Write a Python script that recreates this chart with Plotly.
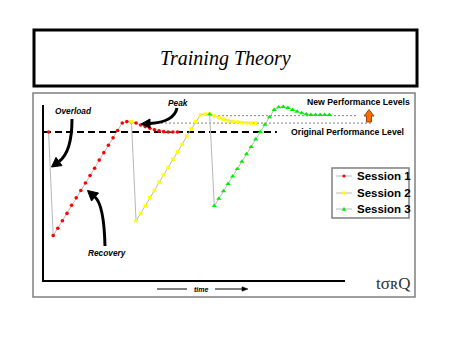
import plotly.graph_objects as go

# ---------------- data ----------------
s1_t = list(range(1, 30))
s1_p = [100, 30, 35, 40, 45, 50.5, 55.5, 60.5, 65.5, 70.5, 75.5, 81, 86, 91, 96, 101, 106,
        107, 106.7, 106, 104.7, 103.6, 102.5, 101.4, 100.7, 100.2, 100, 100, 100]
s2_t = list(range(19, 47))
s2_p = [107, 40, 45, 50, 55.5, 60.5, 66, 71, 76, 81.5, 86.5, 91.5, 97, 102, 107, 111.5,
        112, 112, 110.8, 109.8, 108.6, 107.6, 107, 106.6, 106.3, 106.1, 106, 106]
s3_t = list(range(36, 63))
s3_p = [112, 50, 55, 60, 65, 70, 75, 80, 85, 90, 95, 100, 105, 110, 115, 116.7, 117,
        116.3, 115, 113.8, 112.8, 112, 111.6, 111.5, 111.5, 111.5, 111.5]
series_names = ["Session 1", "Session 2", "Session 3"]
series_colors = ["#ff0000", "#ffff00", "#00ee00"]
series_symbols = ["circle", "square", "triangle-up"]
original_level = 100
new_levels = [106, 111]
original_level_end = 50.6

XMAX = 65.4
YMAX = 118.2

# --------------- layout helpers (pixel -> paper) ---------------
L, R, T, B = 44, 105, 105, 58
W = 450 - L - R
H = 338 - T - B
BPX = 338 - B


def px(x):
    return (x - L) / W


def py(y):
    return (BPX - y) / H


fig = go.Figure()
for t, p, n, c, s, sz in zip([s1_t, s2_t, s3_t], [s1_p, s2_p, s3_p], series_names,
                             series_colors, series_symbols, [3.6, 3.6, 4.6]):
    fig.add_trace(go.Scatter(x=t, y=p, name=n, mode="lines+markers",
                             line=dict(color="#b8b8b8", width=1),
                             marker=dict(color=c, symbol=s, size=sz, line=dict(width=0)),
                             showlegend=False, cliponaxis=False))

shapes = []
# title box
shapes.append(dict(type="rect", xref="paper", yref="paper", x0=px(34), x1=px(417),
                   y0=py(86), y1=py(30), line=dict(color="black", width=3)))
# chart frame
shapes.append(dict(type="rect", xref="paper", yref="paper", x0=px(33), x1=px(415),
                   y0=py(297), y1=py(93), line=dict(color="#808080", width=1.5), layer="below"))
# original performance level
shapes.append(dict(type="line", xref="x", yref="y", x0=0, x1=original_level_end,
                   y0=original_level, y1=original_level,
                   line=dict(color="black", width=2, dash="7px,4px"), layer="below"))
# new performance levels (dotted)
shapes.append(dict(type="line", xref="paper", yref="paper", x0=px(145), x1=px(373),
                   y0=new_levels[0] / YMAX, y1=new_levels[0] / YMAX,
                   line=dict(color="#808080", width=1, dash="2px,2px"), layer="below"))
shapes.append(dict(type="line", xref="paper", yref="paper", x0=px(210), x1=px(357),
                   y0=new_levels[1] / YMAX, y1=new_levels[1] / YMAX,
                   line=dict(color="#808080", width=1, dash="2px,2px"), layer="below"))


def curve(p0, c, p1):
    return "M {} {} Q {} {} {} {}".format(px(p0[0]), py(p0[1]), px(c[0]), py(c[1]),
                                          px(p1[0]), py(p1[1]))


def tri(a, b, c):
    return "M {} {} L {} {} L {} {} Z".format(px(a[0]), py(a[1]), px(b[0]), py(b[1]),
                                              px(c[0]), py(c[1]))


# curved annotation arrows
for body, head in [
    (((72, 119), (72, 152), (59, 161.5)), ((51.5, 167), (62, 165.6), (56, 157.4))),
    (((177, 108), (174, 122), (150, 123.5)), ((141, 124), (150, 119), (150, 128))),
    (((105, 246), (104, 205), (95, 197)), ((87.5, 190.5), (98.5, 193), (91.5, 201))),
]:
    shapes.append(dict(type="path", xref="paper", yref="paper", path=curve(*body),
                       line=dict(color="black", width=3)))
    shapes.append(dict(type="path", xref="paper", yref="paper", path=tri(*head),
                       fillcolor="black", line=dict(color="black", width=1)))

# orange up arrow
arrow_pts = [(366.5, 122), (366.5, 116), (364, 116), (369, 109.5), (374, 116), (371.5, 116), (371.5, 122)]
path = "M " + " L ".join("{} {}".format(px(a), py(b)) for a, b in arrow_pts) + " Z"
shapes.append(dict(type="path", xref="paper", yref="paper", path=path,
                   fillcolor="#ff6a00", line=dict(color="#803000", width=0.8)))

# time arrow
shapes.append(dict(type="line", xref="paper", yref="paper", x0=px(157), x1=px(187),
                   y0=py(289), y1=py(289), line=dict(color="black", width=1)))
shapes.append(dict(type="line", xref="paper", yref="paper", x0=px(215), x1=px(243),
                   y0=py(289), y1=py(289), line=dict(color="black", width=1)))
shapes.append(dict(type="path", xref="paper", yref="paper",
                   path=tri((248, 289), (242, 286.8), (242, 291.2)),
                   fillcolor="black", line=dict(color="black", width=0.5)))

# manual legend
shapes.append(dict(type="rect", xref="paper", yref="paper", x0=px(332), x1=px(409),
                   y0=py(218), y1=py(168), line=dict(color="#808080", width=1.5),
                   fillcolor="white"))
annotations = []
leg_y = [176, 193, 209]
for i, (n, c) in enumerate(zip(series_names, series_colors)):
    y = leg_y[i]
    shapes.append(dict(type="line", xref="paper", yref="paper", x0=px(336), x1=px(352),
                       y0=py(y), y1=py(y), line=dict(color="#b8b8b8", width=1)))
    if i == 0:
        shapes.append(dict(type="circle", xref="paper", yref="paper", x0=px(342.4), x1=px(345.6),
                           y0=py(y + 1.6), y1=py(y - 1.6), fillcolor=c, line=dict(width=0)))
    elif i == 1:
        shapes.append(dict(type="rect", xref="paper", yref="paper", x0=px(342.4), x1=px(345.6),
                           y0=py(y + 1.6), y1=py(y - 1.6), fillcolor=c, line=dict(width=0)))
    else:
        shapes.append(dict(type="path", xref="paper", yref="paper",
                           path=tri((344, y - 2.2), (341.8, y + 1.8), (346.2, y + 1.8)),
                           fillcolor=c, line=dict(width=0)))
    annotations.append(dict(xref="paper", yref="paper", x=px(355), y=py(y), text="<b>" + n + "</b>",
                            showarrow=False, xanchor="left", yanchor="middle",
                            font=dict(family="Liberation Sans, Arial", size=11.5, color="black")))


def note(x, y, text, size=8, xanchor="center", family="Liberation Sans, Arial", color="black"):
    annotations.append(dict(xref="paper", yref="paper", x=px(x), y=py(y), text=text,
                            showarrow=False, xanchor=xanchor, yanchor="middle",
                            font=dict(family=family, size=size, color=color)))


note(225, 58, "<i>Training Theory</i>", size=20, family="Liberation Serif, Times New Roman")
note(73, 111, "<b><i>Overload</i></b>", size=8.3)
note(178, 103, "<b><i>Peak</i></b>", size=8.3)
note(107, 253, "<b><i>Recovery</i></b>", size=8.3)
note(201, 289.5, "<b><i>time</i></b>", size=7)
note(412, 101.5, "<b>New Performance Levels</b>", size=8.7, xanchor="right")
note(289, 132, "<b>Original Performance Level</b>", size=8.7, xanchor="left")
note(393, 283, "tσʀQ", size=17, family="Liberation Serif, DejaVu Serif", color="#333333")

fig.update_layout(
    width=450, height=338,
    margin=dict(l=L, r=R, t=T, b=B),
    paper_bgcolor="white", plot_bgcolor="white",
    showlegend=False,
    xaxis=dict(range=[0, XMAX], showgrid=False, zeroline=False, showticklabels=False,
               ticks="", showline=True, linecolor="black", linewidth=2),
    yaxis=dict(range=[0, YMAX], showgrid=False, zeroline=False, showticklabels=False,
               ticks="", showline=True, linecolor="black", linewidth=2),
    shapes=shapes,
    annotations=annotations,
)

fig.write_html("out.html")
